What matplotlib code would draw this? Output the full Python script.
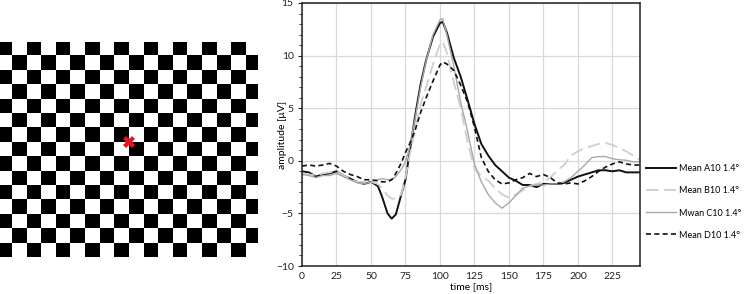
import numpy as np
import matplotlib
matplotlib.use("Agg")
import matplotlib.pyplot as plt

plt.rcParams['font.family'] = ['Lato', 'DejaVu Sans']

# ---- data -------------------------------------------------------------
time_ms = [0, 5, 10, 15, 20, 25, 30, 35, 40, 45, 50, 55, 58, 62, 65, 68, 72, 75, 78, 82,
           86, 90, 95, 100, 102, 105, 110, 115, 120, 125, 130, 135, 140, 145, 150, 155,
           160, 165, 170, 175, 180, 185, 190, 195, 200, 205, 210, 215, 220, 225, 230,
           235, 240, 245]

mean_a10 = [-1.0, -1.1, -1.5, -1.3, -1.2, -1.0, -1.4, -1.7, -2.0, -2.2, -2.0, -2.4, -3.4,
            -5.0, -5.5, -5.1, -3.2, -1.8, 0.8, 4.3, 7.3, 9.6, 11.8, 13.1, 13.2, 12.2, 9.8,
            8.0, 5.8, 3.5, 1.6, 0.5, -0.4, -1.0, -1.6, -1.9, -2.3, -2.3, -2.5, -2.2, -2.2,
            -2.2, -2.1, -1.8, -1.5, -1.3, -1.1, -0.9, -0.9, -1.0, -0.9, -1.1, -1.1, -1.1]

mean_b10 = [-1.2, -1.3, -1.4, -1.2, -1.1, -1.0, -1.4, -1.7, -2.0, -2.0, -2.0, -2.2, -2.6,
            -3.3, -3.6, -3.6, -3.2, -1.6, 0.5, 3.0, 5.4, 7.0, 9.2, 11.1, 11.3, 10.3, 7.5,
            5.0, 1.8, -0.8, -1.4, -1.9, -2.6, -3.2, -3.5, -3.2, -2.8, -2.4, -2.2, -2.0,
            -1.6, -0.9, -0.4, 0.5, 0.9, 1.2, 1.4, 1.6, 1.7, 1.5, 1.2, 0.9, 0.5, 0.1]

mwan_c10 = [-1.3, -1.4, -1.6, -1.4, -1.4, -1.2, -1.5, -1.8, -2.1, -2.2, -2.0, -1.8, -1.7,
            -1.8, -1.8, -1.5, -0.8, -0.1, 1.3, 4.0, 7.0, 9.5, 12.0, 13.4, 13.5, 12.0, 9.0,
            5.6, 2.8, -0.3, -2.0, -3.2, -4.0, -4.5, -4.0, -3.3, -2.6, -2.4, -2.3, -2.3,
            -2.2, -2.2, -2.0, -1.6, -1.0, -0.4, 0.3, 0.4, 0.4, 0.2, 0.1, 0.05, -0.1, -0.1]

mean_d10 = [-0.5, -0.4, -0.5, -0.4, -0.25, -0.5, -1.0, -1.3, -1.5, -1.8, -1.8, -1.9, -2.0,
            -2.0, -1.8, -1.2, -0.2, 0.8, 1.6, 2.9, 4.6, 6.0, 7.6, 9.1, 9.4, 9.2, 8.6, 7.2,
            5.6, 3.2, 0.3, -1.0, -1.8, -2.2, -2.1, -1.8, -1.6, -1.2, -1.5, -1.3, -1.6,
            -2.1, -2.2, -2.1, -2.2, -1.9, -1.5, -1.0, -0.6, -0.3, -0.1, -0.3, -0.4, -0.4]

series_labels = ["Mean A10 1.4°", "Mean B10 1.4°", "Mwan C10 1.4°", "Mean D10 1.4°"]

x_ticks = [0, 25, 50, 75, 100, 125, 150, 175, 200, 225]
y_ticks = [-10, -5, 0, 5, 10, 15]

board_rows = 15
board_cols = 18
fixation_col = 9
fixation_row = 7

# ---- figure -----------------------------------------------------------
fig = plt.figure(figsize=(7.45, 2.94), dpi=100)

# checkerboard stimulus
axb = fig.add_axes([0.0, 1 - 257 / 294, 258 / 745, 215 / 294])
rr, cc = np.indices((board_rows, board_cols))
board = ((rr + cc) % 2 == 1).astype(float)
axb.imshow(board, cmap='gray', vmin=0, vmax=1, interpolation='nearest',
           extent=(0, board_cols, board_rows, 0), aspect='auto')
axb.set_xlim(0.18, board_cols - 0.18)
axb.set_ylim(board_rows, 0)
axb.plot([fixation_col], [fixation_row], marker='X', color='#e8141c',
         markersize=9, markeredgewidth=0)
axb.axis('off')

# ERP plot
ax = fig.add_axes([302 / 745, 1 - 266 / 294, (640 - 302) / 745, (266 - 3) / 294])
ax.plot(time_ms, mean_a10, color='#111111', lw=1.4, label=series_labels[0])
ax.plot(time_ms, mean_b10, color='#cfcfcf', lw=1.3, dashes=(7, 3), label=series_labels[1])
ax.plot(time_ms, mwan_c10, color='#a8a8a8', lw=1.0, label=series_labels[2])
ax.plot(time_ms, mean_d10, color='#111111', lw=1.2, dashes=(3, 2), label=series_labels[3])

ax.set_xlim(0, 245)
ax.set_ylim(-10, 15)
ax.set_xticks(x_ticks)
ax.set_yticks(y_ticks)
ax.set_yticks(np.arange(-10, 16, 1), minor=True)
ax.grid(True, which='major', color='#d9d9d9', lw=0.9)
ax.set_axisbelow(True)
for s in ax.spines.values():
    s.set_color('#222222')
    s.set_linewidth(1.1)
ax.tick_params(axis='x', length=0, labelsize=7.5, pad=4, colors='#222222')
ax.tick_params(axis='y', which='major', length=3, labelsize=7.5, pad=3, colors='#222222')
ax.tick_params(axis='y', which='minor', length=2, colors='#222222')
ax.set_xlabel('time [ms]', fontsize=7.5)
ax.set_ylabel('amplitude [µV]', fontsize=7.5)
ax.xaxis.set_label_coords(0.5, -0.063)
ax.yaxis.set_label_coords(-0.045, 0.5)

fig.legend(loc='center left', bbox_to_anchor=(646 / 745, 1 - 202 / 294),
           frameon=False, fontsize=6.5, handlelength=3.3, handletextpad=0.35,
           labelspacing=1.45, borderaxespad=0, borderpad=0)

fig.savefig('out.png', dpi=100)
